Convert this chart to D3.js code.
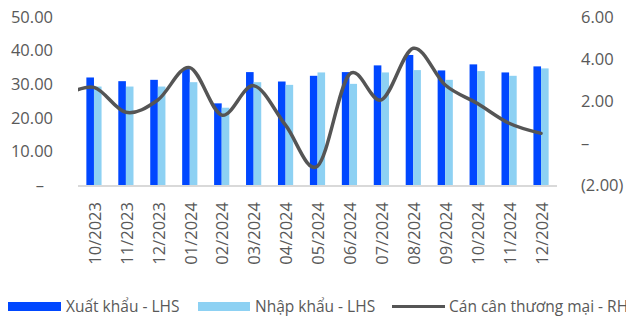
<!DOCTYPE html>
<html>
<head>
<meta charset="utf-8">
<script src="https://cdn.jsdelivr.net/npm/d3@7"></script>
<style>
  html, body { margin: 0; padding: 0; background: #ffffff; }
  svg { display: block; }
  text { font-family: "Open Sans", sans-serif; fill: #595959; }
</style>
</head>
<body>
<svg id="chart" width="626" height="320"></svg>
<script>
// Monthly trade, billion USD
const months = ["10/2023", "11/2023", "12/2023", "01/2024", "02/2024", "03/2024", "04/2024",
                "05/2024", "06/2024", "07/2024", "08/2024", "09/2024", "10/2024", "11/2024", "12/2024"];
const exports = [32.0, 30.9, 31.3, 34.5, 24.3, 33.6, 30.8, 32.5, 33.6, 35.6, 38.7, 34.1, 35.9, 33.5, 35.3];
const imports = [29.3, 29.3, 29.3, 30.6, 23.0, 30.6, 29.8, 33.5, 30.1, 33.5, 34.2, 31.3, 33.9, 32.5, 34.7];
// Trade balance (right axis); the 09/2023 value only shapes the curve entering the plot
const balancePrevMonth = 2.2;
const balance = [2.65, 1.46, 2.05, 3.59, 1.33, 2.73, 0.85, -1.10, 3.27, 2.05, 4.51, 2.76, 1.89, 0.94, 0.46];

const leftTicks = [0, 10, 20, 30, 40, 50];
const rightTicks = [-2, 0, 2, 4, 6];
const seriesNames = ["Xuất khẩu - LHS", "Nhập khẩu - LHS", "Cán cân thương mại - RHS"];

const colExport = "#0047FF";
const colImport = "#8DD1F3";
const colBalance = "#555555";

const svg = d3.select("#chart");
const plot = { left: 78, right: 557, top: 17, bottom: 185 };

const x = d3.scaleBand().domain(months).range([plot.left, plot.right]).padding(0);
const yL = d3.scaleLinear().domain([0, 50]).range([plot.bottom, plot.top]);
const yR = d3.scaleLinear().domain([-2, 6]).range([plot.bottom, plot.top]);
const barW = 7.6;

// Bars
const g = svg.append("g");
g.selectAll("rect.exp").data(months).join("rect")
  .attr("class", "exp")
  .attr("x", d => x(d) + x.bandwidth() / 2 - barW)
  .attr("width", barW)
  .attr("y", (d, i) => yL(exports[i]))
  .attr("height", (d, i) => yL(0) - yL(exports[i]))
  .attr("fill", colExport);
g.selectAll("rect.imp").data(months).join("rect")
  .attr("class", "imp")
  .attr("x", d => x(d) + x.bandwidth() / 2)
  .attr("width", barW)
  .attr("y", (d, i) => yL(imports[i]))
  .attr("height", (d, i) => yL(0) - yL(imports[i]))
  .attr("fill", colImport);

// Category axis line
svg.append("line")
  .attr("x1", plot.left).attr("x2", plot.right)
  .attr("y1", yL(0) + 1).attr("y2", yL(0) + 1)
  .attr("stroke", "#D9D9D9").attr("stroke-width", 2);

// Balance line, smoothed and clipped to the plot area
svg.append("clipPath").attr("id", "plotClip")
  .append("rect")
  .attr("x", plot.left).attr("y", 0)
  .attr("width", plot.right - plot.left).attr("height", 320);

const pts = [[x(months[0]) - x.step() / 2, yR(balancePrevMonth)]]
  .concat(months.map((m, i) => [x(m) + x.bandwidth() / 2, yR(balance[i])]));
svg.append("path")
  .attr("clip-path", "url(#plotClip)")
  .attr("d", d3.line().curve(d3.curveCardinal.tension(0))(pts))
  .attr("fill", "none")
  .attr("stroke", colBalance)
  .attr("stroke-width", 3.5)
  .attr("stroke-linecap", "round");

// Left axis labels
const fmt = d3.format(".2f");
const fontSize = 16.5;
svg.append("g").selectAll("text").data(leftTicks).join("text")
  .attr("x", d => d === 0 ? 44 : 53)
  .attr("y", d => yL(d))
  .attr("dy", "0.35em")
  .attr("text-anchor", "end")
  .attr("font-size", fontSize)
  .text(d => d === 0 ? "–" : fmt(d));

// Right axis labels
svg.append("g").selectAll("text").data(rightTicks).join("text")
  .attr("x", 581)
  .attr("y", d => yR(d))
  .attr("dy", "0.35em")
  .attr("text-anchor", "start")
  .attr("font-size", fontSize)
  .text(d => d === 0 ? "–" : d < 0 ? "(" + fmt(-d) + ")" : fmt(d));

// Month labels, rotated
svg.append("g").selectAll("text").data(months).join("text")
  .attr("transform", d => `translate(${x(d) + x.bandwidth() / 2 + 1},202) rotate(-90)`)
  .attr("text-anchor", "end")
  .attr("dy", "0.35em")
  .attr("font-size", fontSize)
  .text(d => d);

// Legend
const leg = svg.append("g");
leg.append("rect").attr("x", 8).attr("y", 302).attr("width", 53).attr("height", 9).attr("fill", colExport);
leg.append("text").attr("x", 66).attr("y", 312).attr("font-size", 15.5).text(seriesNames[0]);
leg.append("rect").attr("x", 198).attr("y", 302).attr("width", 52).attr("height", 9).attr("fill", colImport);
leg.append("text").attr("x", 255).attr("y", 312).attr("font-size", 15.5).text(seriesNames[1]);
leg.append("line").attr("x1", 392).attr("x2", 445).attr("y1", 306.5).attr("y2", 306.5)
  .attr("stroke", colBalance).attr("stroke-width", 3);
leg.append("text").attr("x", 449).attr("y", 312).attr("font-size", 15.5).text(seriesNames[2]);
</script>
</body>
</html>
